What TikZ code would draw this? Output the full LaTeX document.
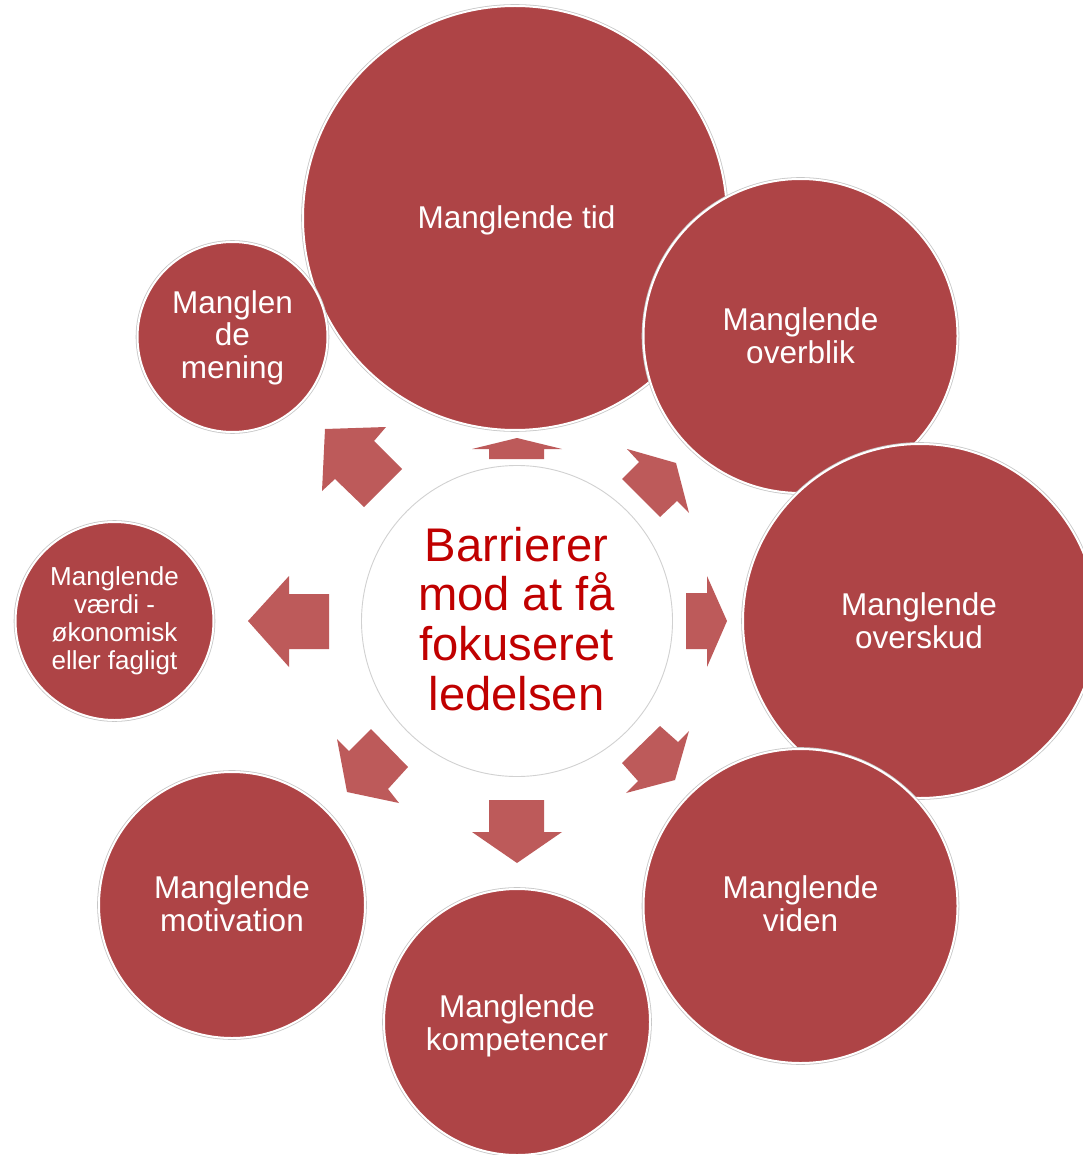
\documentclass[tikz,border=0pt]{standalone}
\usepackage{fontspec}
\setmainfont{Liberation Sans}
\definecolor{bubred}{HTML}{AE4446}
\definecolor{arrred}{HTML}{BD5A5A}
\definecolor{ctext}{HTML}{C00000}
\newcommand\linesof[2]{\vtop{\baselineskip=#1\lineskiplimit=-\maxdimen\lineskip=0pt\halign{\hfil##\hfil\cr#2\crcr}}}
\tikzset{
  bubble/.style={circle, fill=bubred, draw=white, line width=2pt, inner sep=0pt,
    preaction={draw=black!22, line width=3.6pt}},
  hub/.style={circle, fill=white, draw=black!18, line width=0.9pt, inner sep=0pt},
  lbl/.style={anchor=base, inner sep=0pt, text=white, font=\fontsize{31.5}{33}\selectfont},
  blockarrow/.style={fill=arrred}
}
\begin{document}
\begin{tikzpicture}[x=1pt,y=-1pt]
\fill[white] (0,0) rectangle (1082,1155);
\useasboundingbox (0,0) rectangle (1082,1155);
% outer circles
\node[bubble, minimum size=424pt] (tid) at (515,218) {};
\node[bubble, minimum size=314pt] (overblik) at (800.5,336) {};
\node[bubble, minimum size=354pt] (overskud) at (920,621) {};
\node[bubble, minimum size=314pt] (viden) at (800.5,906) {};
\node[bubble, minimum size=266pt] (komp) at (517,1022) {};
\node[bubble, minimum size=266pt] (motiv) at (232,905) {};
\node[bubble, minimum size=198pt] (vaerdi) at (114.5,621) {};
\node[bubble, minimum size=190pt] (mening) at (232.5,337) {};
% centre circle
\node[hub, minimum size=311pt] (hub) at (517,621) {};
% labels
\node[lbl] (tidT) at (516.5,229) {Manglende tid};
\node[lbl] (overblikT) at (800.5,330) {\linesof{33pt}{Manglende\cr overblik}};
\node[lbl] (overskudT) at (919,615) {\linesof{33pt}{Manglende\cr overskud}};
\node[lbl] (videnT) at (800.5,898) {\linesof{33pt}{Manglende\cr viden}};
\node[lbl] (kompT) at (517,1017) {\linesof{33pt}{Manglende\cr kompetencer}};
\node[lbl] (motivT) at (232,898) {\linesof{33pt}{Manglende\cr motivation}};
\node[lbl] (meningT) at (232.5,313) {\linesof{32.5pt}{Manglen\cr de\cr mening}};
\node[lbl, font=\fontsize{26}{28}\selectfont] (vaerdiT) at (114.5,585)
  {\linesof{28pt}{Manglende\cr værdi -\cr økonomisk\cr eller fagligt}};
\node[lbl, text=ctext, font=\fontsize{47.2}{50}\selectfont] (hubT) at (516.5,561)
  {\linesof{49.7pt}{Barrierer\cr mod at få\cr fokuseret\cr ledelsen}};
% block arrows
\fill[blockarrow] (517,438) -- (562,449) -- (544,449) -- (544,459) -- (489,459) -- (489,449) -- (472,449) -- cycle;
\fill[blockarrow] (686,593) -- (707,593) -- (707,576) -- (727,621) -- (707,667) -- (707,649) -- (686,649) -- cycle;
\fill[blockarrow] (248,621) -- (289,576) -- (289,594) -- (329,594) -- (329,649) -- (289,649) -- (289,667) -- cycle;
\fill[blockarrow] (489,800) -- (544,800) -- (544,832) -- (562,832) -- (517,863) -- (472,832) -- (489,832) -- cycle;
\fill[blockarrow] (325,429) -- (386,427) -- (374,441) -- (402,469) -- (364,507) -- (335,479) -- (322,491) -- cycle;
\fill[blockarrow] (627,449) -- (676,463) -- (689,513) -- (677,501) -- (660,517) -- (622,479) -- (639,462) -- cycle;
\fill[blockarrow] (660,726) -- (678,742) -- (689,731) -- (675,780) -- (626,793) -- (638,781) -- (622,763) -- cycle;
\fill[blockarrow] (337,739) -- (349,751) -- (371,729) -- (408,767) -- (388,789) -- (399,803) -- (347,792) -- cycle;
\end{tikzpicture}
\end{document}
